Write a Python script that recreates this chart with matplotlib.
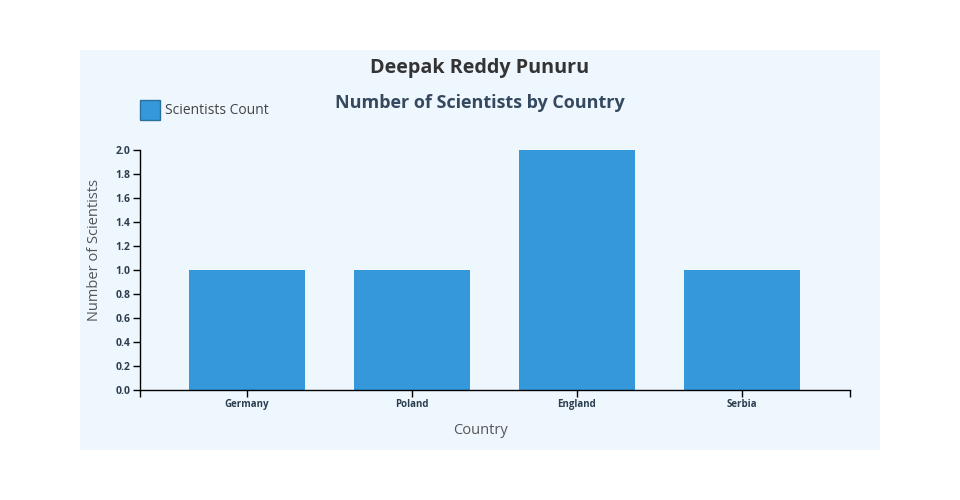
import matplotlib
matplotlib.use("Agg")
import matplotlib.pyplot as plt
from matplotlib.patches import Rectangle

countries = ["Germany", "Poland", "England", "Serbia"]
counts = [1, 1, 2, 1]
y_ticks = [0.0, 0.2, 0.4, 0.6, 0.8, 1.0, 1.2, 1.4, 1.6, 1.8, 2.0]

BAR = "#3498db"
PANEL = "#eff7fe"
plt.rcParams["font.family"] = ["Open Sans", "DejaVu Sans"]

fig = plt.figure(figsize=(9.6, 5), dpi=100)
fig.patches.append(Rectangle((80 / 960, 50 / 500), 800 / 960, 400 / 500,
                             transform=fig.transFigure, facecolor=PANEL,
                             edgecolor="none", zorder=-5))

ax = fig.add_axes([140 / 960, 110 / 500, 710 / 960, 240 / 500])
ax.set_zorder(2)
ax.set_facecolor("none")

xs = list(range(len(countries)))
ax.bar(xs, counts, width=0.7, color=BAR, label="Scientists Count", zorder=2)

ax.set_xlim(-0.648, 3.655)
ax.set_ylim(0, 2.0)
ax.set_xticks(xs)
ax.set_xticklabels(countries, fontsize=7, fontweight="bold", color="#2c3e50")
ax.set_xticks([-0.648, 3.655], minor=True)
ax.tick_params(axis="x", which="both", length=5, width=1, direction="out", pad=1.5)
ax.set_yticks(y_ticks)
ax.set_yticklabels([f"{v:.1f}" for v in y_ticks], fontsize=7.5, fontweight="bold",
                   color="#2c3e50")
ax.tick_params(axis="y", length=5, width=1, direction="out", pad=2)

for side in ["top", "right"]:
    ax.spines[side].set_visible(False)
for side in ["left", "bottom"]:
    ax.spines[side].set_color("black")
    ax.spines[side].set_linewidth(1)

# axis titles are centred on the panel, not on the axes
fig.text(480 / 960, 1 - 430 / 500, "Country", ha="center", va="center",
         fontsize=10.5, color="#555555")
fig.text(95 / 960, 1 - 250 / 500, "Number of Scientists", ha="center",
         va="center", rotation=90, fontsize=10.5, color="#555555")

fig.text(0.5, 1 - 68 / 500, "Deepak Reddy Punuru", ha="center", va="center",
         fontsize=14.2, fontweight="bold", color="#333333")
fig.text(0.5, 1 - 103 / 500, "Number of Scientists by Country", ha="center",
         va="center", fontsize=13, fontweight="bold", color="#34495e")

fig.patches.append(Rectangle((140 / 960, 1 - 120 / 500), 20 / 960, 20 / 500,
                             transform=fig.transFigure, facecolor=BAR,
                             edgecolor="#2c6e9b", linewidth=1, zorder=3))
fig.text(165 / 960, 1 - 110 / 500, "Scientists Count", ha="left", va="center",
         fontsize=10, color="#444444")

fig.savefig("out.png", dpi=100, facecolor="white")
